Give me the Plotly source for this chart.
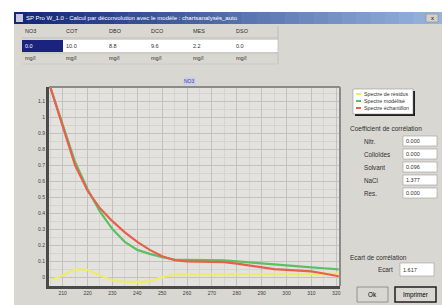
import plotly.graph_objects as go

# ---------------- data ----------------
wavelengths = [205, 210, 215, 220, 225, 230, 235, 240, 245, 250, 255, 260, 265, 270,
               275, 280, 285, 290, 295, 300, 305, 310, 315, 321]
spectre_residus = [-0.02, 0.01, 0.05, 0.045, 0.01, -0.02, -0.03, -0.03, -0.025, 0.0, 0.015, 0.015,
                   0.016, 0.016, 0.017, 0.017, 0.018, 0.018, 0.017, 0.018, 0.018, 0.019, 0.02, 0.022]
spectre_modelise = [1.19, 0.96, 0.72, 0.55, 0.41, 0.30, 0.22, 0.17, 0.145, 0.125, 0.11, 0.108,
                    0.108, 0.107, 0.105, 0.098, 0.091, 0.085, 0.078, 0.071, 0.065, 0.06, 0.055, 0.048]
spectre_echantillon = [1.19, 0.95, 0.70, 0.54, 0.43, 0.35, 0.28, 0.22, 0.17, 0.13, 0.105, 0.098,
                       0.096, 0.095, 0.093, 0.084, 0.072, 0.058, 0.05, 0.045, 0.042, 0.036, 0.022, 0.005]
series_names = ["Spectre de résidus", "Spectre modélisé", "Spectre échantillon"]
series_colors = ["#ecec6a", "#5dbf63", "#e8604c"]

x_ticks = [210, 220, 230, 240, 250, 260, 270, 280, 290, 300, 310, 320]
y_ticks = [0, 0.1, 0.2, 0.3, 0.4, 0.5, 0.6, 0.7, 0.8, 0.9, 1, 1.1]
y_tick_text = ["0", "0.1", "0.2", "0.3", "0.4", "0.5", "0.6", "0.7", "0.8", "0.9", "1", "1.1"]

table_headers = ["NO3", "COT", "DBO", "DCO", "MES", "DSO"]
table_values = ["0.0", "10.0", "8.8", "9.6", "2.2", "0.0"]
table_units = ["mg/l", "mg/l", "mg/l", "mg/l", "mg/l", "mg/l"]

coef_labels = ["Nitr.", "Colloïdes", "Solvant", "NaCl", "Res."]
coef_values = ["0.000", "0.000", "0.096", "1.377", "0.000"]
ecart_value = "1.617"

# ---------------- geometry helpers ----------------
W, H = 442, 305
PL, PR, PT, PB = 49, 340, 87, 286


def xp(px):
    return (px - PL) / (PR - PL)


def yp(py):
    return (PB - py) / (PB - PT)


shapes = []
annotations = []
FONT = "Liberation Sans"


def rect(x0, y0, x1, y1, fill, line=None, lw=0, layer="below"):
    shapes.append(dict(type="rect", xref="paper", yref="paper",
                       x0=xp(x0), x1=xp(x1), y0=yp(y1), y1=yp(y0),
                       fillcolor=fill, layer=layer,
                       line=dict(color=line or fill, width=lw)))


def hline(x0, x1, y, color, lw=1, layer="below"):
    shapes.append(dict(type="line", xref="paper", yref="paper",
                       x0=xp(x0), x1=xp(x1), y0=yp(y), y1=yp(y),
                       line=dict(color=color, width=lw), layer=layer))


def vline(x, y0, y1, color, lw=1, layer="below"):
    shapes.append(dict(type="line", xref="paper", yref="paper",
                       x0=xp(x), x1=xp(x), y0=yp(y0), y1=yp(y1),
                       line=dict(color=color, width=lw), layer=layer))


def text(x, y, s, size=5, color="#303030", anchor="left", bg=None):
    annotations.append(dict(xref="paper", yref="paper", x=xp(x), y=yp(y), text=s,
                            showarrow=False, xanchor=anchor, yanchor="middle",
                            font=dict(family=FONT, size=size, color=color),
                            bgcolor=bg, borderpad=0))


# dialog background
rect(14, 12, 442, 305, "#d9d7d2")
# title bar gradient
n = 30
c0 = (18, 40, 120)
c1 = (150, 180, 220)
for i in range(n):
    t = i / (n - 1)
    c = tuple(int(c0[k] + (c1[k] - c0[k]) * t) for k in range(3))
    x0 = 14 + (442 - 14) * i / n
    x1 = 14 + (442 - 14) * (i + 1) / n + 0.5
    rect(x0, 12, x1, 24, "rgb(%d,%d,%d)" % c)
rect(16, 14, 23, 22, "#c8c8d8")
text(25, 18, "SP Pro W_1.0 - Calcul par déconvolution avec le modèle : chartsanalysés_auto",
     size=6, color="#ffffff")
rect(426, 14, 438, 22, "#d4d0c8", "#808080", 0.5)
text(432, 18, "x", size=6, color="#000000", anchor="center")

# table
col_x = [22, 63, 106, 148, 190, 233, 278]
rect(22, 40, 278, 52, "#ffffff")
rect(22, 40, 63, 52, "#1a237e")
hline(22, 278, 38, "#b0aea8", 0.6)
hline(22, 278, 53, "#b0aea8", 0.6)
hline(22, 278, 64, "#c4c2bc", 0.6)
vline(278, 26, 64, "#b0aea8", 0.6)
for i in range(len(table_headers)):
    xx = col_x[i] + 2
    text(xx, 31, table_headers[i], size=5.5)
    text(xx, 46, table_values[i], size=5.5, color="#ffffff" if i == 0 else "#303030")
    text(xx, 58, table_units[i], size=5.5)

# plot background
rect(PL, PT, PR, PB, "#e4e2de")
# chart title
text(189, 81, "NO3", size=5, color="#40409a", anchor="center", bg="#ccccee")

# legend box (manual)
rect(355, 91, 415, 116, "#202020")
rect(353, 89, 413, 114, "#ffffff", "#808080", 0.5)
for i, (nm, col) in enumerate(zip(series_names, series_colors)):
    yy = 94 + 7 * i
    hline(356, 361, yy, col, 2)
    text(363, yy, nm, size=5.3)

# coefficient panel
text(349, 128, "Coefficient de corrélation", size=6.5)
for i, (lab, val) in enumerate(zip(coef_labels, coef_values)):
    yy = 141 + 13 * i
    text(363, yy, lab, size=6.3)
    rect(403, yy - 5, 437, yy + 5, "#ffffff", "#9a9a9a", 0.6)
    text(405, yy, val, size=5.5)

# ecart panel
text(349, 257, "Ecart de corrélation", size=6.5)
text(377, 269, "Ecart", size=6.3)
rect(400, 263, 434, 276, "#ffffff", "#9a9a9a", 0.6)
text(402, 269.5, ecart_value, size=5.5)

# buttons
rect(357, 287, 388, 302, "#d9d7d2", "#808080", 0.8)
text(372.5, 294.5, "Ok", size=6.3, anchor="center", color="#000000")
rect(395, 287, 436, 302, "#d9d7d2", "#202020", 1.5)
text(415.5, 294.5, "Imprimer", size=6.3, anchor="center", color="#000000")

# frame top/right of plot
hline(PL, PR, PT, "#8a8a8a", 2, layer="above")
vline(PR, PT, PB, "#8a8a8a", 2, layer="above")

# ---------------- figure ----------------
fig = go.Figure()
for ys, nm, col in zip([spectre_residus, spectre_modelise, spectre_echantillon],
                       series_names, series_colors):
    fig.add_trace(go.Scatter(x=wavelengths, y=ys, mode="lines", name=nm,
                             line=dict(color=col, width=2.2), showlegend=False))

fig.update_layout(
    width=W, height=H, autosize=False,
    margin=dict(l=PL, r=W - PR, t=PT, b=H - PB, pad=0),
    paper_bgcolor="#ffffff", plot_bgcolor="rgba(0,0,0,0)",
    shapes=shapes, annotations=annotations, showlegend=False,
    font=dict(family=FONT, size=5, color="#404040"),
)
fig.update_xaxes(range=[204.5, 321.5], tickvals=x_ticks, ticktext=[str(v) for v in x_ticks],
                 showline=True, linecolor="#4a4a4a", linewidth=3,
                 showgrid=True, gridcolor="#c4c2be", gridwidth=1,
                 minor=dict(dtick=5, tick0=205, showgrid=True, gridcolor="#d6d4d0", gridwidth=1),
                 zeroline=False, ticks="", tickfont=dict(size=5, color="#404040"),
                 automargin=False, fixedrange=True)
fig.update_yaxes(range=[-0.056, 1.19], tickvals=y_ticks, ticktext=y_tick_text,
                 showline=True, linecolor="#4a4a4a", linewidth=3,
                 showgrid=True, gridcolor="#c4c2be", gridwidth=1,
                 minor=dict(dtick=0.05, tick0=0, showgrid=True, gridcolor="#d6d4d0", gridwidth=1),
                 zeroline=False, ticks="", tickfont=dict(size=5, color="#404040"),
                 automargin=False, fixedrange=True)

fig.write_html("out.html", config={"displayModeBar": False},
               post_script="document.body.style.margin='0';document.body.style.overflow='hidden';")
